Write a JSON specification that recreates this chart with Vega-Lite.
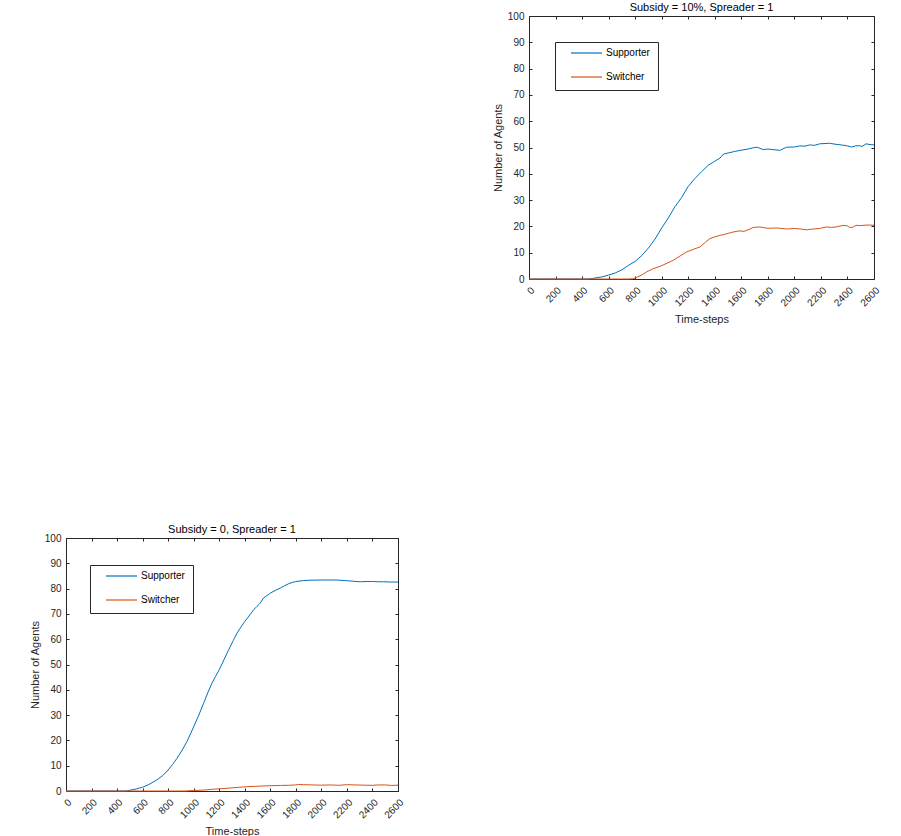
{
  "$schema": "https://vega.github.io/schema/vega-lite/v6.json",
  "padding": {"left": 29, "top": 2, "right": 0, "bottom": 0},
  "background": "white",
  "config": {
    "font": "Liberation Sans",
    "view": {"stroke": null},
    "axis": {
      "grid": false,
      "labelFontSize": 10,
      "labelColor": "#262626",
      "labelFont": "Liberation Sans",
      "titleFont": "Liberation Sans",
      "titleFontSize": 11,
      "titleFontWeight": "normal",
      "titleColor": "#262626",
      "tickColor": "#262626",
      "domainColor": "#262626",
      "tickSize": -3,
      "labelFlush": false,
      "labelOverlap": false
    },
    "title": {"fontSize": 11, "fontWeight": "normal", "color": "#000000", "font": "Liberation Sans", "offset": -2},
    "legend": {
      "orient": "none",
      "title": null,
      "symbolType": "stroke",
      "symbolSize": 961,
      "symbolStrokeWidth": 1.2,
      "clipHeight": 6,
      "rowPadding": 14,
      "padding": 8,
      "symbolOffset": 7,
      "labelOffset": 3,
      "labelFontSize": 10,
      "labelColor": "#000000",
      "labelFont": "Liberation Sans",
      "strokeColor": "#262626",
      "fillColor": "#ffffff"
    }
  },
  "datasets": {
    "top": [
      {"t":0,"n":0,"series":"Supporter"},{"t":100,"n":0,"series":"Supporter"},{"t":200,"n":0,"series":"Supporter"},{"t":300,"n":0,"series":"Supporter"},{"t":400,"n":0,"series":"Supporter"},{"t":450,"n":0,"series":"Supporter"},{"t":480,"n":0.2,"series":"Supporter"},{"t":500,"n":0.4,"series":"Supporter"},{"t":550,"n":0.8,"series":"Supporter"},{"t":600,"n":1.5,"series":"Supporter"},{"t":650,"n":2.3,"series":"Supporter"},{"t":700,"n":3.5,"series":"Supporter"},{"t":750,"n":5.2,"series":"Supporter"},{"t":800,"n":6.7,"series":"Supporter"},{"t":850,"n":8.9,"series":"Supporter"},{"t":900,"n":11.8,"series":"Supporter"},{"t":950,"n":15.2,"series":"Supporter"},{"t":1000,"n":19.4,"series":"Supporter"},{"t":1050,"n":23.2,"series":"Supporter"},{"t":1100,"n":27.5,"series":"Supporter"},{"t":1150,"n":31,"series":"Supporter"},{"t":1200,"n":35.2,"series":"Supporter"},{"t":1250,"n":38.2,"series":"Supporter"},{"t":1300,"n":40.8,"series":"Supporter"},{"t":1350,"n":43.2,"series":"Supporter"},{"t":1400,"n":44.8,"series":"Supporter"},{"t":1440,"n":46,"series":"Supporter"},{"t":1465,"n":47.5,"series":"Supporter"},{"t":1500,"n":47.9,"series":"Supporter"},{"t":1550,"n":48.5,"series":"Supporter"},{"t":1600,"n":49,"series":"Supporter"},{"t":1650,"n":49.4,"series":"Supporter"},{"t":1690,"n":49.9,"series":"Supporter"},{"t":1720,"n":50.1,"series":"Supporter"},{"t":1765,"n":49.2,"series":"Supporter"},{"t":1800,"n":49.4,"series":"Supporter"},{"t":1840,"n":49.2,"series":"Supporter"},{"t":1890,"n":48.9,"series":"Supporter"},{"t":1940,"n":50.1,"series":"Supporter"},{"t":2000,"n":50.2,"series":"Supporter"},{"t":2040,"n":50.6,"series":"Supporter"},{"t":2080,"n":50.5,"series":"Supporter"},{"t":2115,"n":51,"series":"Supporter"},{"t":2150,"n":50.8,"series":"Supporter"},{"t":2190,"n":51.4,"series":"Supporter"},{"t":2265,"n":51.6,"series":"Supporter"},{"t":2315,"n":51.2,"series":"Supporter"},{"t":2365,"n":50.9,"series":"Supporter"},{"t":2400,"n":50.6,"series":"Supporter"},{"t":2430,"n":50.2,"series":"Supporter"},{"t":2460,"n":50.6,"series":"Supporter"},{"t":2490,"n":50.7,"series":"Supporter"},{"t":2510,"n":50.4,"series":"Supporter"},{"t":2540,"n":51.4,"series":"Supporter"},{"t":2570,"n":51.1,"series":"Supporter"},{"t":2600,"n":51,"series":"Supporter"},
      {"t":0,"n":0,"series":"Switcher"},{"t":200,"n":0,"series":"Switcher"},{"t":400,"n":0,"series":"Switcher"},{"t":600,"n":0,"series":"Switcher"},{"t":750,"n":0,"series":"Switcher"},{"t":780,"n":0.1,"series":"Switcher"},{"t":800,"n":0.4,"series":"Switcher"},{"t":850,"n":1.5,"series":"Switcher"},{"t":886,"n":2.7,"series":"Switcher"},{"t":930,"n":3.8,"series":"Switcher"},{"t":987,"n":4.8,"series":"Switcher"},{"t":1040,"n":6,"series":"Switcher"},{"t":1087,"n":7.1,"series":"Switcher"},{"t":1140,"n":8.8,"series":"Switcher"},{"t":1188,"n":10.3,"series":"Switcher"},{"t":1240,"n":11.3,"series":"Switcher"},{"t":1289,"n":12.2,"series":"Switcher"},{"t":1330,"n":14,"series":"Switcher"},{"t":1364,"n":15.4,"series":"Switcher"},{"t":1400,"n":16,"series":"Switcher"},{"t":1440,"n":16.6,"series":"Switcher"},{"t":1475,"n":17,"series":"Switcher"},{"t":1510,"n":17.5,"series":"Switcher"},{"t":1550,"n":18,"series":"Switcher"},{"t":1590,"n":18.3,"series":"Switcher"},{"t":1620,"n":18.1,"series":"Switcher"},{"t":1660,"n":18.9,"series":"Switcher"},{"t":1690,"n":19.6,"series":"Switcher"},{"t":1740,"n":19.8,"series":"Switcher"},{"t":1780,"n":19.4,"series":"Switcher"},{"t":1815,"n":19.3,"series":"Switcher"},{"t":1870,"n":19.4,"series":"Switcher"},{"t":1940,"n":19,"series":"Switcher"},{"t":2000,"n":19.2,"series":"Switcher"},{"t":2050,"n":19,"series":"Switcher"},{"t":2090,"n":18.7,"series":"Switcher"},{"t":2140,"n":19,"series":"Switcher"},{"t":2190,"n":19.2,"series":"Switcher"},{"t":2240,"n":19.8,"series":"Switcher"},{"t":2280,"n":19.6,"series":"Switcher"},{"t":2315,"n":19.8,"series":"Switcher"},{"t":2365,"n":20.4,"series":"Switcher"},{"t":2400,"n":20.2,"series":"Switcher"},{"t":2415,"n":19.6,"series":"Switcher"},{"t":2440,"n":19.7,"series":"Switcher"},{"t":2465,"n":20.4,"series":"Switcher"},{"t":2500,"n":20.3,"series":"Switcher"},{"t":2540,"n":20.5,"series":"Switcher"},{"t":2585,"n":20.5,"series":"Switcher"},{"t":2600,"n":20.4,"series":"Switcher"}
    ],
    "bottom": [
      {"t":0,"n":0,"series":"Supporter"},{"t":200,"n":0,"series":"Supporter"},{"t":400,"n":0,"series":"Supporter"},{"t":470,"n":0,"series":"Supporter"},{"t":500,"n":0.3,"series":"Supporter"},{"t":550,"n":0.8,"series":"Supporter"},{"t":600,"n":1.5,"series":"Supporter"},{"t":650,"n":2.6,"series":"Supporter"},{"t":712,"n":4.4,"series":"Supporter"},{"t":760,"n":6.2,"series":"Supporter"},{"t":800,"n":8.3,"series":"Supporter"},{"t":835,"n":10.5,"series":"Supporter"},{"t":869,"n":12.9,"series":"Supporter"},{"t":910,"n":16.2,"series":"Supporter"},{"t":947,"n":19.5,"series":"Supporter"},{"t":1000,"n":25.4,"series":"Supporter"},{"t":1040,"n":30,"series":"Supporter"},{"t":1078,"n":34.7,"series":"Supporter"},{"t":1110,"n":38.8,"series":"Supporter"},{"t":1143,"n":42.6,"series":"Supporter"},{"t":1170,"n":45.2,"series":"Supporter"},{"t":1200,"n":47.9,"series":"Supporter"},{"t":1240,"n":52.2,"series":"Supporter"},{"t":1274,"n":55.8,"series":"Supporter"},{"t":1310,"n":59.5,"series":"Supporter"},{"t":1339,"n":62.4,"series":"Supporter"},{"t":1370,"n":64.8,"series":"Supporter"},{"t":1400,"n":67,"series":"Supporter"},{"t":1443,"n":69.8,"series":"Supporter"},{"t":1469,"n":71.6,"series":"Supporter"},{"t":1496,"n":73,"series":"Supporter"},{"t":1516,"n":74,"series":"Supporter"},{"t":1548,"n":76.3,"series":"Supporter"},{"t":1600,"n":78.2,"series":"Supporter"},{"t":1640,"n":79.3,"series":"Supporter"},{"t":1678,"n":80.2,"series":"Supporter"},{"t":1710,"n":81.1,"series":"Supporter"},{"t":1743,"n":81.9,"series":"Supporter"},{"t":1770,"n":82.4,"series":"Supporter"},{"t":1800,"n":82.8,"series":"Supporter"},{"t":1861,"n":83.2,"series":"Supporter"},{"t":1900,"n":83.3,"series":"Supporter"},{"t":2000,"n":83.4,"series":"Supporter"},{"t":2122,"n":83.4,"series":"Supporter"},{"t":2200,"n":83.1,"series":"Supporter"},{"t":2250,"n":82.9,"series":"Supporter"},{"t":2305,"n":82.7,"series":"Supporter"},{"t":2350,"n":82.8,"series":"Supporter"},{"t":2400,"n":82.8,"series":"Supporter"},{"t":2450,"n":82.7,"series":"Supporter"},{"t":2487,"n":82.7,"series":"Supporter"},{"t":2540,"n":82.6,"series":"Supporter"},{"t":2600,"n":82.6,"series":"Supporter"},
      {"t":0,"n":0,"series":"Switcher"},{"t":400,"n":0,"series":"Switcher"},{"t":700,"n":0,"series":"Switcher"},{"t":934,"n":0,"series":"Switcher"},{"t":1000,"n":0.2,"series":"Switcher"},{"t":1091,"n":0.4,"series":"Switcher"},{"t":1150,"n":0.7,"series":"Switcher"},{"t":1222,"n":0.9,"series":"Switcher"},{"t":1290,"n":1.2,"series":"Switcher"},{"t":1352,"n":1.45,"series":"Switcher"},{"t":1420,"n":1.7,"series":"Switcher"},{"t":1483,"n":1.85,"series":"Switcher"},{"t":1550,"n":2,"series":"Switcher"},{"t":1613,"n":2.1,"series":"Switcher"},{"t":1680,"n":2.2,"series":"Switcher"},{"t":1744,"n":2.25,"series":"Switcher"},{"t":1800,"n":2.4,"series":"Switcher"},{"t":1822,"n":2.6,"series":"Switcher"},{"t":1860,"n":2.5,"series":"Switcher"},{"t":1927,"n":2.4,"series":"Switcher"},{"t":2000,"n":2.3,"series":"Switcher"},{"t":2070,"n":2.4,"series":"Switcher"},{"t":2135,"n":2.25,"series":"Switcher"},{"t":2200,"n":2.5,"series":"Switcher"},{"t":2266,"n":2.4,"series":"Switcher"},{"t":2330,"n":2.3,"series":"Switcher"},{"t":2397,"n":2.25,"series":"Switcher"},{"t":2450,"n":2.4,"series":"Switcher"},{"t":2501,"n":2.4,"series":"Switcher"},{"t":2550,"n":2.2,"series":"Switcher"},{"t":2600,"n":2.3,"series":"Switcher"}
    ]
  },
  "bounds": "flush",
  "spacing": 522,
  "resolve": {"scale": {"color": "independent"}, "legend": {"color": "independent"}},
  "vconcat": [
    {
      "bounds": "flush",
      "spacing": 462,
      "resolve": {"scale": {"color": "independent"}, "legend": {"color": "independent"}},
      "hconcat": [
        {
          "width": 1,
          "height": 263,
          "data": {"values": []},
          "mark": {"type": "point", "opacity": 0},
          "encoding": {}
        },
        {
          "width": 345,
          "height": 263,
          "title": "Subsidy = 10%, Spreader = 1",
          "data": {"name": "top"},
          "resolve": {"axis": {"x": "independent", "y": "independent"}},
          "layer": [
            {
              "mark": {"type": "line", "strokeWidth": 1},
              "encoding": {
                "x": {"field": "t", "type": "quantitative", "scale": {"domain": [0, 2600], "nice": false}, "title": "Time-steps",
                  "axis": {"orient": "bottom", "values": [0,200,400,600,800,1000,1200,1400,1600,1800,2000,2200,2400,2600], "labelAngle": -45, "labelPadding": 9, "titlePadding": 6, "format": "d"}},
                "y": {"field": "n", "type": "quantitative", "scale": {"domain": [0, 100], "nice": false}, "title": "Number of Agents",
                  "axis": {"orient": "left", "values": [0,10,20,30,40,50,60,70,80,90,100], "labelPadding": 8, "titlePadding": 4}},
                "color": {"field": "series", "type": "nominal", "scale": {"domain": ["Supporter", "Switcher"], "range": ["#0072BD", "#D95319"]},
                  "legend": {"legendX": 26, "legendY": 26}}
              }
            },
            {
              "mark": {"type": "line", "opacity": 0},
              "encoding": {
                "x": {"field": "t", "type": "quantitative", "axis": {"orient": "top", "labels": false, "title": null, "values": [0,200,400,600,800,1000,1200,1400,1600,1800,2000,2200,2400,2600]}},
                "y": {"field": "n", "type": "quantitative", "axis": {"orient": "right", "labels": false, "title": null, "values": [0,10,20,30,40,50,60,70,80,90,100]}},
                "detail": {"field": "series"}
              }
            }
          ]
        }
      ]
    },
    {
      "width": 332,
      "height": 253,
      "title": "Subsidy = 0, Spreader = 1",
      "data": {"name": "bottom"},
      "resolve": {"axis": {"x": "independent", "y": "independent"}},
      "layer": [
        {
          "mark": {"type": "line", "strokeWidth": 1},
          "encoding": {
            "x": {"field": "t", "type": "quantitative", "scale": {"domain": [0, 2600], "nice": false}, "title": "Time-steps",
              "axis": {"orient": "bottom", "values": [0,200,400,600,800,1000,1200,1400,1600,1800,2000,2200,2400,2600], "labelAngle": -45, "labelPadding": 9, "titlePadding": 6, "format": "d"}},
            "y": {"field": "n", "type": "quantitative", "scale": {"domain": [0, 100], "nice": false}, "title": "Number of Agents",
              "axis": {"orient": "left", "values": [0,10,20,30,40,50,60,70,80,90,100], "labelPadding": 8, "titlePadding": 4}},
            "color": {"field": "series", "type": "nominal", "scale": {"domain": ["Supporter", "Switcher"], "range": ["#0072BD", "#D95319"]},
              "legend": {"legendX": 24, "legendY": 27}}
          }
        },
        {
          "mark": {"type": "line", "opacity": 0},
          "encoding": {
            "x": {"field": "t", "type": "quantitative", "axis": {"orient": "top", "labels": false, "title": null, "values": [0,200,400,600,800,1000,1200,1400,1600,1800,2000,2200,2400,2600]}},
            "y": {"field": "n", "type": "quantitative", "axis": {"orient": "right", "labels": false, "title": null, "values": [0,10,20,30,40,50,60,70,80,90,100]}},
            "detail": {"field": "series"}
          }
        }
      ]
    }
  ]
}
